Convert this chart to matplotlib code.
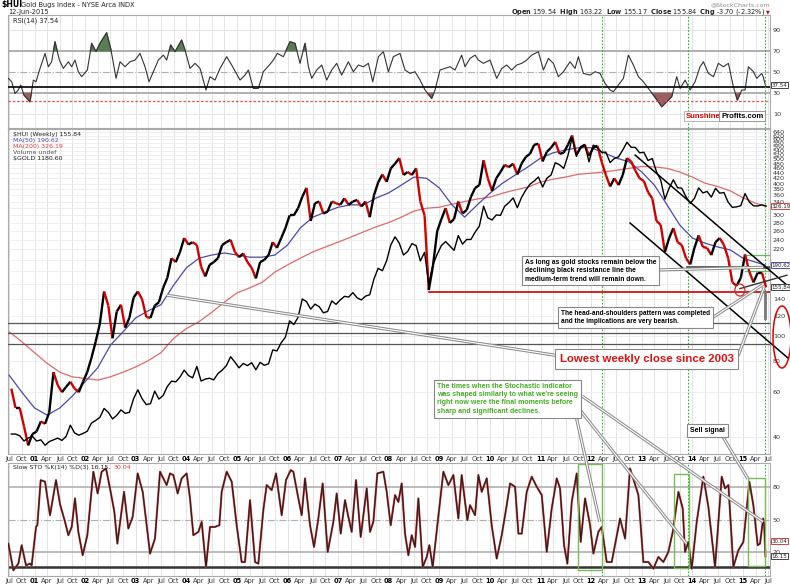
import numpy as np
import matplotlib.pyplot as plt
from matplotlib.collections import LineCollection
from matplotlib.lines import Line2D
from matplotlib.patches import Ellipse, Rectangle
from matplotlib.ticker import FixedLocator, NullLocator

# ---------------- data ----------------
# $HUI, one close per month, Jul 2000 .. Jun 2015
hui_first = 2000 + 6.5 / 12
hui_close = [
    62, 52, 52, 44, 37, 41,
    42, 46, 45, 50, 72, 64, 60, 63, 66, 62, 60, 66,
    72, 82, 95, 112, 150, 132, 98, 125, 133, 108, 118, 142,
    150, 140, 119, 118, 132, 136, 155, 170, 203, 196, 215, 244,
    230, 235, 229, 188, 172, 191, 196, 203, 229, 235, 240, 215,
    205, 212, 196, 186, 169, 196, 200, 209, 235, 223, 244, 267,
    300, 300, 320, 355, 385, 285, 335, 340, 305, 310, 340, 335,
    330, 350, 330, 340, 345, 325, 340, 295, 360, 405, 435, 407,
    460, 480, 505, 433, 445, 433, 460, 340, 300, 152, 190, 260,
    290, 320, 280, 290, 340, 305, 315, 355, 385, 395, 495, 420,
    375, 420, 445, 475, 465, 480, 435, 480, 510, 525, 570, 575,
    490, 535, 555, 585, 525, 530, 570, 620, 520, 555, 570, 515,
    555, 565, 488, 433, 390, 420, 395, 433, 505, 490, 450, 420,
    410, 370, 350, 285, 275, 215, 244, 267, 235, 229, 203, 192,
    223, 250, 225, 223, 209, 235, 244, 229, 203, 163, 158, 170,
    210, 180, 163, 178, 178, 155.84,
]
# $GOLD, one close per month, same months
gold_close = [
    277, 277, 274, 265, 270, 273,
    265, 267, 258, 264, 267, 270, 266, 273, 293, 279, 275, 278,
    282, 297, 302, 308, 326, 318, 305, 312, 323, 316, 318, 347,
    367, 347, 334, 336, 364, 346, 354, 375, 388, 386, 398, 416,
    402, 396, 426, 388, 393, 395, 391, 407, 416, 428, 453, 438,
    422, 434, 428, 436, 417, 437, 429, 433, 473, 470, 495, 513,
    569, 556, 582, 654, 643, 613, 633, 623, 599, 604, 646, 632,
    650, 665, 662, 681, 659, 650, 666, 672, 743, 795, 783, 834,
    923, 971, 933, 865, 885, 930, 918, 833, 880, 718, 814, 869,
    919, 942, 916, 891, 979, 927, 955, 955, 1001, 1040, 1180, 1096,
    1081, 1116, 1113, 1180, 1207, 1244, 1169, 1248, 1307, 1357, 1385, 1421,
    1333, 1410, 1439, 1556, 1536, 1500, 1628, 1826, 1620, 1725, 1746, 1564,
    1740, 1711, 1662, 1664, 1557, 1598, 1615, 1687, 1772, 1717, 1714, 1657,
    1663, 1578, 1598, 1469, 1393, 1234, 1323, 1396, 1327, 1323, 1253, 1202,
    1240, 1326, 1284, 1296, 1250, 1322, 1282, 1287, 1210, 1171, 1175, 1184,
    1279, 1213, 1183, 1182, 1190, 1180.6,
]
# moving averages, read quarterly
ma_t = [2000.5 + 0.25 * i for i in range(60)] + [2015.445]
ma50 = [70, 60, 52, 48.7, 52, 58, 66, 75, 92, 104, 118, 126, 133, 159, 186, 203,
        209, 213, 209, 205, 205, 209, 229, 267, 295, 309, 323, 330, 330, 351, 368,
        395, 425, 420, 385, 330, 295, 330, 367, 402, 433, 466, 505, 530, 544, 555,
        555, 530, 505, 488, 445, 395, 330, 275, 244, 233, 225, 219, 203, 196, 190.62]
ma200 = [104, 95, 86, 78, 72, 69, 68, 67, 69, 72, 75.5, 80, 86, 98, 107, 114,
         124, 136, 148, 155, 163, 179, 191, 203, 215, 225, 235, 246, 258, 270, 281,
         295, 312, 320, 323, 332, 340, 348, 354, 367, 378, 388, 406, 417, 425, 436,
         440, 445, 452, 460, 468, 466, 460, 445, 425, 402, 390, 375, 352, 335, 326.19]

# RSI(14): turning points (date, value)
rsi_t = [2000.483, 2000.549, 2000.615, 2000.680, 2000.727, 2000.792, 2000.911, 2000.977,
         2001.030, 2001.109, 2001.208, 2001.273, 2001.339, 2001.405, 2001.491, 2001.570,
         2001.669, 2001.735, 2001.800, 2001.866, 2001.932, 2002.044, 2002.130, 2002.215,
         2002.294, 2002.426, 2002.512, 2002.611, 2002.690, 2002.789, 2002.887, 2002.986,
         2003.085, 2003.184, 2003.263, 2003.362, 2003.447, 2003.546, 2003.612, 2003.691,
         2003.777, 2003.908, 2003.974, 2004.073, 2004.172, 2004.271, 2004.389, 2004.468,
         2004.567, 2004.666, 2004.798, 2004.897, 2005.061, 2005.160, 2005.226, 2005.325,
         2005.424, 2005.522, 2005.641, 2005.720, 2005.799, 2005.918, 2006.049, 2006.148,
         2006.247, 2006.346, 2006.412, 2006.478, 2006.577, 2006.675, 2006.774, 2006.873,
         2006.972, 2007.070, 2007.202, 2007.301, 2007.400, 2007.499, 2007.598, 2007.684,
         2007.796, 2007.895, 2007.993, 2008.092, 2008.223, 2008.322, 2008.421, 2008.520,
         2008.619, 2008.717, 2008.849, 2008.915, 2009.014, 2009.109, 2009.211, 2009.310,
         2009.442, 2009.508, 2009.607, 2009.706, 2009.772, 2009.871, 2010.002, 2010.134,
         2010.233, 2010.332, 2010.430, 2010.529, 2010.628, 2010.727, 2010.826, 2010.958,
         2011.057, 2011.156, 2011.254, 2011.353, 2011.452, 2011.584, 2011.682, 2011.748,
         2011.847, 2011.979, 2012.078, 2012.176, 2012.275, 2012.374, 2012.440, 2012.539,
         2012.638, 2012.736, 2012.835, 2012.934, 2013.033, 2013.132, 2013.231, 2013.329,
         2013.395, 2013.494, 2013.593, 2013.692, 2013.758, 2013.857, 2013.955, 2014.054,
         2014.153, 2014.219, 2014.318, 2014.417, 2014.515, 2014.614, 2014.713, 2014.811,
         2014.890, 2014.976, 2015.042, 2015.108, 2015.207, 2015.273, 2015.371, 2015.400,
         2015.445]
rsi_v = [44.1, 40.9, 29.9, 33.1, 37.8, 28.3, 22.0, 42.5, 40.9, 53.5, 67.7, 55.1, 59.8,
         78.7, 61.4, 53.5, 59.8, 55.1, 61.4, 50.4, 45.7, 52.0, 77.2, 69.3, 77.2, 87.2,
         70.9, 44.1, 59.8, 55.1, 59.8, 61.4, 67.7, 55.1, 40.9, 52.0, 61.4, 66.1, 61.4,
         75.6, 69.3, 80.3, 70.9, 53.5, 58.3, 53.5, 33.1, 45.7, 42.5, 53.5, 64.6, 56.7,
         42.5, 47.2, 52.0, 34.6, 34.6, 50.4, 56.7, 61.4, 67.7, 64.6, 78.7, 77.2, 58.3,
         77.2, 55.1, 44.1, 52.0, 56.7, 42.5, 52.0, 58.3, 47.2, 59.8, 50.4, 56.7, 55.1,
         58.3, 40.9, 64.6, 69.3, 50.4, 64.6, 67.7, 52.0, 48.8, 50.4, 42.5, 33.1, 25.2,
         33.1, 52.0, 53.5, 55.1, 52.0, 66.1, 55.1, 63.0, 66.1, 61.4, 58.3, 61.4, 44.1,
         53.5, 56.7, 52.0, 56.7, 58.3, 61.4, 66.1, 69.3, 52.0, 63.0, 58.3, 45.7, 50.4,
         59.8, 53.5, 64.6, 48.8, 47.2, 50.4, 48.8, 39.4, 33.1, 31.5, 37.8, 44.1, 66.1,
         56.7, 45.7, 40.9, 34.6, 28.3, 22.0, 17.3, 22.0, 26.8, 45.7, 34.6, 42.5, 33.1,
         40.9, 55.1, 59.8, 48.8, 45.7, 58.3, 55.1, 58.3, 36.2, 23.6, 33.1, 33.1, 55.1,
         50.4, 44.1, 48.8, 45.7, 37.54]

# Slow STO %K(14): turning points (date, value)
sto_t = [2000.483, 2000.582, 2000.681, 2000.746, 2000.832, 2000.911, 2000.944, 2001.030,
         2001.056, 2001.122, 2001.208, 2001.306, 2001.425, 2001.504, 2001.603, 2001.669,
         2001.735, 2001.800, 2001.866, 2001.952, 2002.044, 2002.163, 2002.248, 2002.327,
         2002.413, 2002.492, 2002.578, 2002.637, 2002.769, 2002.854, 2002.940, 2003.039,
         2003.138, 2003.283, 2003.381, 2003.480, 2003.612, 2003.678, 2003.744, 2003.829,
         2003.908, 2004.007, 2004.073, 2004.139, 2004.238, 2004.304, 2004.389, 2004.468,
         2004.567, 2004.653, 2004.699, 2004.798, 2004.897, 2004.995, 2005.094, 2005.160,
         2005.259, 2005.358, 2005.424, 2005.522, 2005.588, 2005.687, 2005.773, 2005.885,
         2005.970, 2006.063, 2006.115, 2006.214, 2006.280, 2006.346, 2006.445, 2006.524,
         2006.609, 2006.695, 2006.794, 2006.906, 2006.972, 2007.051, 2007.136, 2007.202,
         2007.268, 2007.354, 2007.446, 2007.565, 2007.630, 2007.696, 2007.775, 2007.894,
         2007.960, 2008.039, 2008.125, 2008.191, 2008.256, 2008.322, 2008.388, 2008.454,
         2008.520, 2008.586, 2008.672, 2008.751, 2008.803, 2008.869, 2009.080, 2009.179,
         2009.278, 2009.376, 2009.442, 2009.554, 2009.607, 2009.706, 2009.772, 2009.838,
         2009.937, 2010.035, 2010.134, 2010.233, 2010.332, 2010.398, 2010.497, 2010.563,
         2010.629, 2010.727, 2010.826, 2010.925, 2011.024, 2011.123, 2011.221, 2011.320,
         2011.386, 2011.465, 2011.531, 2011.617, 2011.715, 2011.794, 2011.880, 2011.979,
         2012.045, 2012.143, 2012.209, 2012.308, 2012.407, 2012.572, 2012.671, 2012.769,
         2012.934, 2013.033, 2013.132, 2013.231, 2013.329, 2013.428, 2013.527, 2013.613,
         2013.725, 2013.810, 2013.856, 2013.922, 2013.988, 2014.087, 2014.218, 2014.317,
         2014.449, 2014.581, 2014.647, 2014.713, 2014.811, 2014.910, 2015.009, 2015.127,
         2015.206, 2015.292, 2015.338, 2015.400, 2015.420, 2015.445]
sto_v = [27.8, 3.0, 9.2, 26.3, 7.6, 9.2, 7.6, 43.3, 44.9, 86.8, 85.3, 54.2, 86.8, 64.5,
         48.0, 35.6, 43.3, 69.8, 38.7, 17.0, 35.6, 94.6, 74.4, 94.6, 97.7, 79.1, 57.3,
         27.8, 75.9, 41.8, 52.7, 93.0, 75.9, 18.5, 32.5, 94.6, 82.2, 93.0, 91.5, 74.4,
         88.4, 93.0, 69.8, 35.6, 38.7, 48.0, 6.1, 43.3, 43.3, 44.9, 75.9, 94.6, 85.3,
         44.9, 10.7, 10.7, 68.2, 10.7, 9.2, 58.9, 82.2, 77.5, 93.0, 54.2, 86.8, 96.1,
         94.6, 69.8, 54.2, 88.4, 44.9, 24.7, 51.1, 83.7, 20.1, 48.0, 74.4, 37.1, 68.2,
         52.7, 38.7, 86.8, 34.0, 79.1, 38.7, 48.0, 93.0, 94.6, 75.9, 44.9, 72.9, 66.5,
         83.7, 37.1, 17.0, 35.6, 24.7, 69.8, 6.1, 15.4, 26.3, 6.1, 94.6, 82.2, 91.5,
         51.1, 91.5, 49.6, 63.5, 54.2, 91.5, 75.9, 88.4, 44.9, 13.9, 35.6, 63.5, 83.7,
         80.6, 37.1, 37.1, 75.9, 90.0, 80.6, 72.9, 20.1, 60.4, 88.4, 79.1, 26.3, 9.2,
         66.6, 93.0, 29.4, 69.8, 44.9, 18.5, 38.7, 43.3, 10.7, 10.7, 51.1, 32.5, 97.7,
         72.9, 10.7, 10.7, 4.5, 15.4, 10.7, 20.1, 38.7, 75.9, 60.4, 20.1, 29.4, 4.5,
         48.0, 90.0, 62.0, 6.1, 90.0, 79.1, 82.2, 6.1, 21.6, 29.4, 85.3, 63.5, 26.3,
         27.8, 51.1, 44.9, 16.15]

# horizontal levels / annotation anchors
gray_levels = [112.3, 102.5, 92.7]
support = 150
neck_resist = 188
signal_dates = [2012.21, 2013.91, 2015.44]
sto_boxes = [(2011.735, 2012.22, 3, 101.5), (2013.64, 2013.94, 4.8, 92.4),
             (2015.11, 2015.44, 6.7, 89)]
upper_trend = ([2012.87, 2015.87], [519, 159])
lower_trend = ([2012.77, 2015.89], [279.6, 81.9])
neckline = ([2014.94, 2015.87], [154, 174])

# ---------------- figure ----------------
W, H = 790, 584
fig = plt.figure(figsize=(W / 100, H / 100), dpi=100)
XL = (2000.476, 2015.535)


def axrect(l, t, r, b):
    return [l / W, 1 - b / H, (r - l) / W, (b - t) / H]


def fr(px, py):
    return px / W, 1 - py / H


ax_rsi = fig.add_axes(axrect(8, 15, 770, 128))
ax = fig.add_axes(axrect(8, 129, 770, 454))
ax_sto = fig.add_axes(axrect(8, 463, 770, 576))

# gold is overlaid on its own (hidden) log scale
ax_g = ax.twinx()

qt = [y + (m - 1) / 12 for y in range(2000, 2016) for m in (1, 4, 7, 10)]
qt = [q for q in qt if XL[0] <= q <= XL[1]]
mnames = {3: 'Apr', 6: 'Jul', 9: 'Oct'}
qlab = []
for q in qt:
    m = int(round((q - int(q)) * 12))
    qlab.append('%02d' % (int(q) % 100) if m == 0 else mnames[m])

for a in (ax_rsi, ax, ax_sto):
    a.set_xlim(*XL)
    a.set_facecolor('white')
    for s in a.spines.values():
        s.set_color('#aaaaaa')
        s.set_linewidth(0.8)
    a.set_xticks(qt)
    for q in qt:
        a.axvline(q, color='#e4e4e4', lw=0.7, zorder=0)
    a.yaxis.tick_right()
    a.tick_params(axis='y', length=0, labelsize=4.6, pad=2, colors='#333333',
                  left=False, labelleft=False, right=True, labelright=True)
    a.tick_params(axis='x', length=0, labelsize=4.8, pad=1.5, colors='#333333')
    for d in signal_dates:
        a.axvline(d, color='#33aa33', lw=0.8, ls=(0, (1.5, 1.5)), zorder=4)

ax_rsi.set_xticklabels([])
for a in (ax, ax_sto):
    a.set_xticklabels(qlab)
    for lab in a.get_xticklabels():
        if lab.get_text().isdigit():
            lab.set_fontweight('bold')
            lab.set_color('black')

# ---- RSI panel ----
rt = np.array(rsi_t)
rv = np.array(rsi_v)
ax_rsi.set_ylim(-2.8, 104)
ax_rsi.set_yticks([10, 30, 50, 70, 90])
for lv in (10, 90):
    ax_rsi.axhline(lv, color='#e4e4e4', lw=0.7, zorder=0)
for lv in (30, 70):
    ax_rsi.axhline(lv, color='#b0b0b0', lw=1.4, zorder=1)
ax_rsi.axhline(50, color='#b0b0b0', lw=0.8, ls='-.', zorder=1)
ax_rsi.fill_between(rt, rv, 70, where=rv >= 70, interpolate=True, color='#5b7d55', zorder=2)
ax_rsi.fill_between(rt, rv, 30, where=rv <= 30, interpolate=True, color='#9a6060', zorder=2)
ax_rsi.plot(rt, rv, color='#333333', lw=0.8, zorder=3)
ax_rsi.axhline(35.5, color='black', lw=1.2, zorder=3)
ax_rsi.axhline(22.5, color='#e05050', lw=0.9, ls=(0, (2, 1.5)), zorder=3)
ax_rsi.text(0.006, 0.975, 'RSI(14) 37.54', transform=ax_rsi.transAxes, fontsize=4.8,
            va='top', ha='left', color='#222222')

# ---- main price panel ----
ax.set_yscale('log')
ax.set_ylim(34.2, 658)
main_ticks = [40, 60, 80, 100, 120] + list(range(140, 641, 20))
hidden = (160, 180, 200, 320)   # labels covered by the value tags
ax.yaxis.set_major_locator(FixedLocator(main_ticks))
ax.yaxis.set_minor_locator(NullLocator())
ax.set_yticklabels(['' if v in hidden else str(v) for v in main_ticks])
for v in main_ticks:
    ax.axhline(v, color='#ececec', lw=0.6, zorder=0)

ht = hui_first + np.arange(len(hui_close)) / 12
hv = np.array(hui_close, dtype=float)

ax_g.set_yscale('log')
ax_g.set_ylim(244, 1928)
ax_g.set_xlim(*XL)
ax_g.yaxis.set_major_locator(NullLocator())
ax_g.yaxis.set_minor_locator(NullLocator())
ax_g.tick_params(left=False, right=False, labelleft=False, labelright=False)
for s in ax_g.spines.values():
    s.set_visible(False)
ax_g.plot(ht, gold_close, color='black', lw=1.0, zorder=2)

ax.plot(ma_t, ma200, color='#e06868', lw=0.9, zorder=3)
ax.plot(ma_t, ma50, color='#4a4aa8', lw=0.9, zorder=3)
segs = [[(ht[i], hv[i]), (ht[i + 1], hv[i + 1])] for i in range(len(hv) - 1)]
cols = ['#d10000' if hv[i + 1] < hv[i] else 'black' for i in range(len(hv) - 1)]
ax.add_collection(LineCollection(segs, colors=cols, linewidths=1.7, zorder=5))

for lv in gray_levels:
    ax.axhline(lv, color='#555555', lw=0.9, zorder=4)
ax.plot([2008.8, XL[1]], [support, support], color='#cc0000', lw=1.2, zorder=4)
ax.plot([2013.9, XL[1]], [neck_resist, neck_resist], color='#555555', lw=2.0, zorder=4)
ax.plot(*upper_trend, color='black', lw=1.1, zorder=6, clip_on=False)
ax.plot(*lower_trend, color='black', lw=1.1, zorder=6, clip_on=False)
ax.plot(*neckline, color='#333333', lw=1.0, zorder=6, clip_on=False)
ax.plot([2015.05, XL[1]], [209, 209], color='#66bb66', lw=0.9, zorder=4)
ax.plot([2015.05, XL[1]], [180, 180], color='#66bb66', lw=0.9, zorder=4)
ax.plot([2015.44, 2015.44], [150, 118], color='#777777', lw=2.0, zorder=6)

leg = [('\\$HUI (Weekly) 155.84', '#222222'), ('MA(50) 190.62', '#4a4aa8'),
       ('MA(200) 326.19', '#e04040'), ('Volume undef', '#555555'),
       ('\\$GOLD 1180.60', '#222222')]
for i, (s, c) in enumerate(leg):
    ax.text(0.006, 0.99 - i * 0.0185, s, transform=ax.transAxes, fontsize=4.5,
            va='top', ha='left', color=c)

# ---- stochastic panel ----
ax_sto.set_ylim(-2.3, 102.7)
ax_sto.set_yticks([20, 50, 80])
for lv in (20, 80):
    ax_sto.axhline(lv, color='#b0b0b0', lw=1.2, zorder=1)
ax_sto.axhline(50, color='#b0b0b0', lw=0.8, ls='-.', zorder=1)
ax_sto.axhline(5.8, color='#333333', lw=1.8, zorder=2)
ax_sto.plot(sto_t, sto_v, color='#e03a3a', lw=1.5, zorder=3)
ax_sto.plot(sto_t, sto_v, color='#222222', lw=0.85, zorder=4)
for x0, x1, y0, y1 in sto_boxes:
    ax_sto.add_patch(Rectangle((x0, y0), x1 - x0, y1 - y0, fill=False,
                               ec='#77bb55', lw=1.0, zorder=5, clip_on=False))
ax_sto.text(0.006, 0.985, 'Slow STO %K(14) %D(3) 16.15,', transform=ax_sto.transAxes,
            fontsize=4.5, va='top', ha='left', color='#222222')
ax_sto.text(0.139, 0.985, '30.04', transform=ax_sto.transAxes,
            fontsize=4.5, va='top', ha='left', color='#e03a3a')


# value tags on the right axis
def tag(a, val, s, ec):
    a.text(1.002, val, s, transform=a.get_yaxis_transform(), fontsize=4.0, va='center',
           ha='left', color='#222222', zorder=10,
           bbox=dict(boxstyle='square,pad=0.12', fc='white', ec=ec, lw=0.7))


tag(ax_rsi, 37.54, '37.54', '#444444')
tag(ax, 326.19, '326.19', '#e04040')
tag(ax, 190.62, '190.62', '#4a4aa8')
tag(ax, 155.84, '155.84', '#444444')
tag(ax_sto, 30.04, '30.04', '#e03a3a')
tag(ax_sto, 16.15, '16.15', '#444444')

# ---------------- header ----------------
fig.text(*fr(1, 5), '\\$HUI', fontsize=5.6, fontweight='bold', va='center', ha='left')
fig.text(*fr(21, 5), 'Gold Bugs Index - NYSE Arca INDX', fontsize=4.8, va='center', ha='left',
         color='#222222')
fig.text(*fr(8, 12), '12-Jun-2015', fontsize=4.8, va='center', ha='left', color='#222222')
fig.text(*fr(770, 5), '@StockCharts.com', fontsize=4.5, va='center', ha='right', color='#888888')
fig.text(*fr(765, 12), r'$\bf{Open}$ 159.54  $\bf{High}$ 163.22  $\bf{Low}$ 155.17  '
         r'$\bf{Close}$ 155.84  $\bf{Chg}$ -3.70 (-2.32%)', fontsize=4.8, va='center',
         ha='right', color='#222222')
fig.text(*fr(766, 12), '\u25bc', fontsize=3.5, va='center', ha='left', color='#cc0000')

# SunshineProfits logo
fig.text(*fr(686, 116), 'Sunshine', fontsize=5.6, fontweight='bold', color='#cc0000',
         family='Liberation Sans', va='center', ha='left', zorder=30,
         bbox=dict(boxstyle='square,pad=0.25', fc='white', ec='#aaaaaa', lw=0.6))
fig.text(*fr(721, 116), 'Profits.com', fontsize=5.6, fontweight='bold', color='black',
         family='Liberation Sans', va='center', ha='left', zorder=30,
         bbox=dict(boxstyle='square,pad=0.25', fc='white', ec='#888888', lw=0.6))


# ---------------- annotations ----------------
def to_fig(a, x, y):
    return fig.transFigure.inverted().transform(a.transData.transform((x, y)))


def callout(p0, p1):
    for lw, c in ((2.3, '#8c8c8c'), (0.8, 'white')):
        fig.add_artist(Line2D([p0[0], p1[0]], [p0[1], p1[1]], transform=fig.transFigure,
                              lw=lw, color=c, zorder=20, solid_capstyle='butt'))


def note(px, py, s, color='black', size=5.0):
    fig.text(*fr(px, py), s, fontsize=size, fontweight='bold', family='Liberation Sans',
             color=color, va='top', ha='left', linespacing=1.25, zorder=30,
             bbox=dict(boxstyle='square,pad=0.4', fc='white', ec='#888888', lw=0.8))


callout(fr(655, 270), to_fig(ax, 2015.40, 187))
callout(fr(712, 318), to_fig(ax, 2015.40, 160))
callout(to_fig(ax, 2003.62, 145), fr(560, 356))
callout(fr(738, 356), to_fig(ax, 2015.42, 156))
callout(fr(576, 416), to_fig(ax_sto, 2012.17, 48))
callout(fr(580, 410), to_fig(ax_sto, 2013.88, 28))
callout(fr(582, 396), to_fig(ax_sto, 2015.40, 48))
callout(fr(720, 432), to_fig(ax_sto, 2015.10, 88))

note(525, 259, 'As long as gold stocks remain below the\ndeclining black resistance line the\n'
     'medium-term trend will remain down.', size=4.9)
note(561, 310, 'The head-and-shoulders pattern was completed\nand the implications are very bearish.',
     size=4.7)
note(560, 354, 'Lowest weekly close since 2003', color='#dd1111', size=8.2)
note(437, 383, "The times when the Stochastic indicator\nwas shaped similarly to what we're seeing\n"
     "right now were the final moments before\nsharp and significant declines.",
     color='#44aa22')
note(690, 427, 'Sell signal')

fig.add_artist(Ellipse(to_fig(ax, 2014.94, 152), 10 / W, 12 / H, transform=fig.transFigure,
                       fill=False, ec='#dd2222', lw=0.9, zorder=21))
fig.add_artist(Ellipse(fr(782, 337), 18 / W, 62 / H, transform=fig.transFigure,
                       fill=False, ec='#dd0000', lw=1.1, zorder=21))

fig.savefig('out.png', dpi=100)
